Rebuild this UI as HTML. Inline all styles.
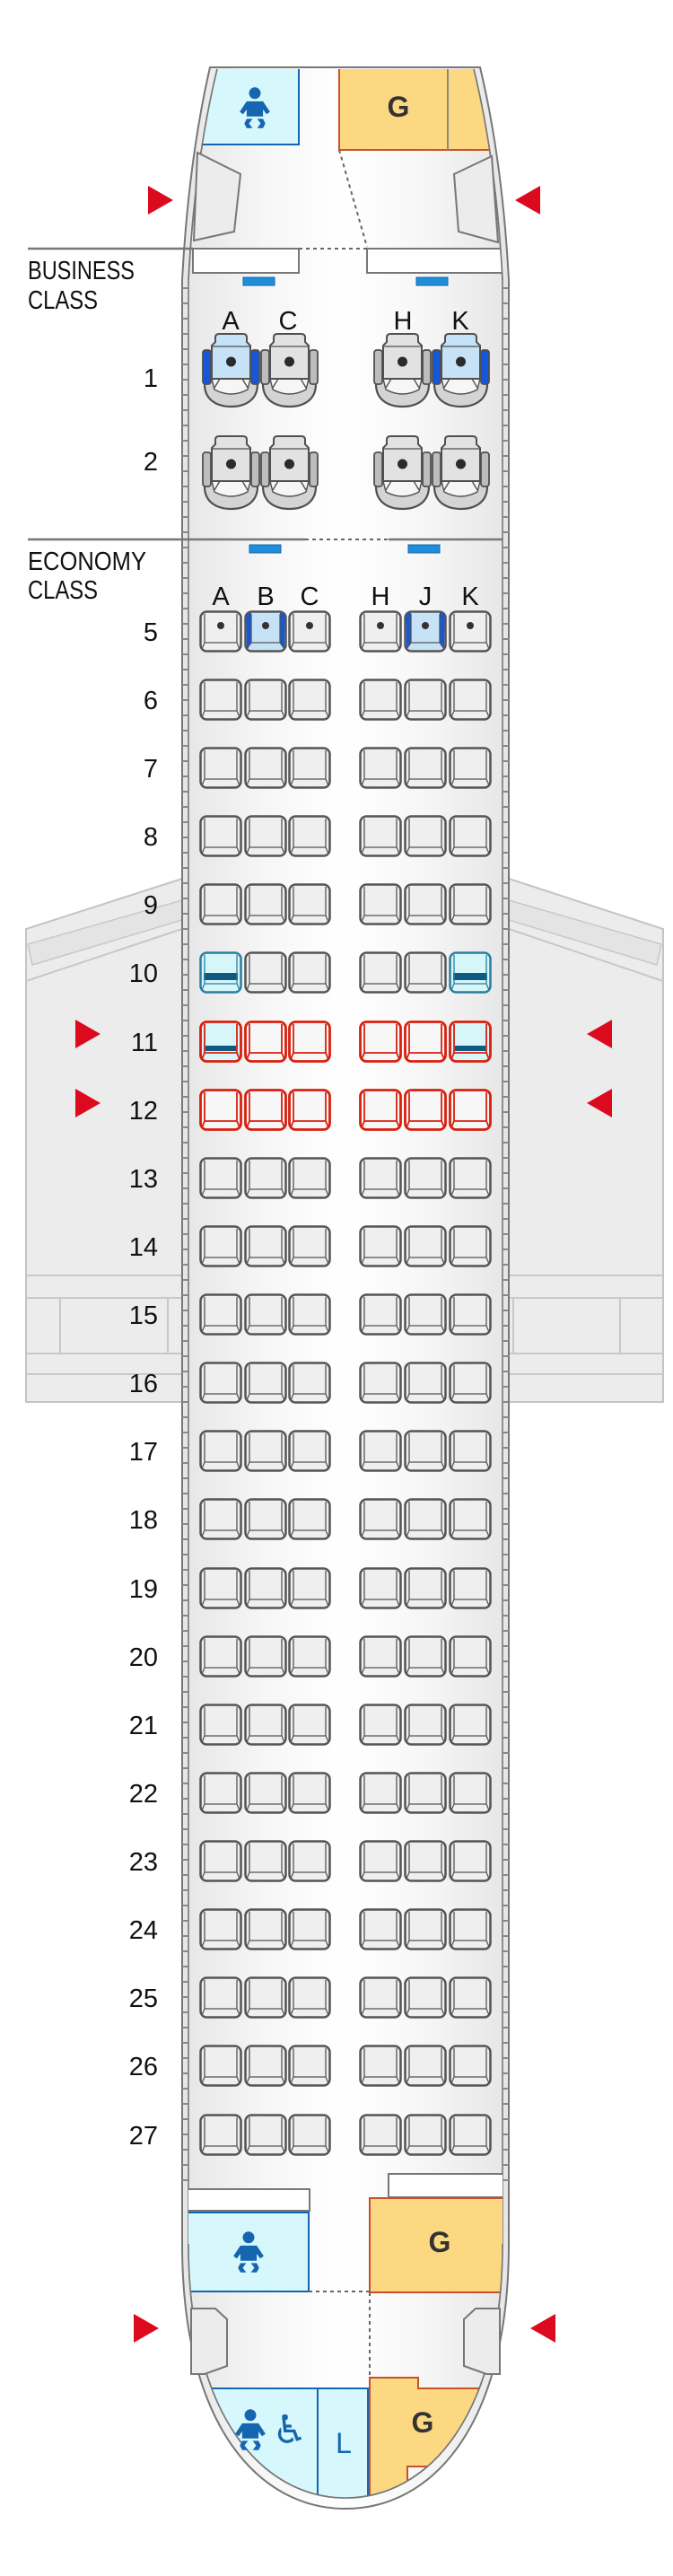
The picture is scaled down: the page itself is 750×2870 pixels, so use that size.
<!DOCTYPE html>
<html><head><meta charset="utf-8"><style>
html,body{margin:0;padding:0;background:#fff;}
svg{display:block;}
text{font-family:"Liberation Sans",sans-serif;}
</style></head><body>
<svg width="750" height="2870" viewBox="0 0 750 2870" xmlns="http://www.w3.org/2000/svg">
<defs>
<linearGradient id="fg" x1="0" x2="1" y1="0" y2="0">
<stop offset="0" stop-color="#e6e6e6"/><stop offset="0.25" stop-color="#f6f6f6"/><stop offset="0.5" stop-color="#ffffff"/><stop offset="0.75" stop-color="#f6f6f6"/><stop offset="1" stop-color="#e6e6e6"/>
</linearGradient>
<clipPath id="inner"><path d="M242,77 L528,77 Q553,180 560,312 L560,2500 C560,2690 478,2783 385,2783 C292,2783 210,2690 210,2500 L210,312 Q217,180 242,77 Z"/></clipPath>
<g id="s"><rect x="1.5" y="1.5" width="45" height="44" rx="7" fill="#efefef" stroke="#555" stroke-width="2.5"/><path d="M6,4 V36 H42 V4 M6,36 L3,43 M42,36 L45,43" fill="none" stroke="#555" stroke-width="1.3"/></g>
<g id="sd"><use href="#s"/><circle cx="24" cy="17" r="4" fill="#333"/></g>
<g id="sb"><rect x="1.5" y="1.5" width="45" height="44" rx="7" fill="#c6e2f7" stroke="#555" stroke-width="2.5"/><path d="M2.5,8 Q2.5,2.5 8,2.5 V36 L3,43 Z M45.5,8 Q45.5,2.5 40,2.5 V36 L45,43 Z" fill="#1656d8"/><path d="M8,4 V36 H40 V4 M8,36 L3,43 M40,36 L45,43" fill="none" stroke="#555" stroke-width="1.3"/><circle cx="24" cy="17" r="4" fill="#333"/></g>
<g id="sr"><rect x="1.5" y="1.5" width="45" height="44" rx="7" fill="#f7f7f7" stroke="#d8200f" stroke-width="2.8"/><path d="M6,4 V36 H42 V4 M6,36 L3,43 M42,36 L45,43" fill="none" stroke="#d8200f" stroke-width="1.8"/></g>
<g id="sx"><rect x="1.5" y="1.5" width="45" height="44" rx="7" fill="#d6f6fa" stroke="#2a7ea0" stroke-width="2.5"/><rect x="5" y="24" width="38" height="8" fill="#0e5a80"/><path d="M6,4 V36 H42 V4 M6,36 L3,43 M42,36 L45,43" fill="none" stroke="#2a7ea0" stroke-width="1.3"/></g>
<g id="srx"><rect x="1.5" y="1.5" width="45" height="44" rx="7" fill="#d6f6fa" stroke="#d8200f" stroke-width="2.8"/><rect x="7" y="28" width="34" height="6" fill="#0e5a80"/><path d="M6,4 V36 H42 V4 M6,36 L3,43 M42,36 L45,43" fill="none" stroke="#d8200f" stroke-width="1.8"/></g>
<g id="row"><use href="#s" x="222"/><use href="#s" x="272"/><use href="#s" x="321"/><use href="#s" x="400"/><use href="#s" x="450"/><use href="#s" x="500"/></g>
<g id="bz">
<path d="M3,28 V56 C3,73 16,81 32.5,81 C49,81 62,73 62,56 V28 Z" fill="#d4d4d4" stroke="#505050" stroke-width="2.2"/>
<path d="M11,50 L54,50 L51,62 Q32.5,72 14,62 Z" fill="#f6f6f6" stroke="#505050" stroke-width="1.4"/>
<path d="M20,50 L14,60 M45,50 L51,60" stroke="#505050" stroke-width="1.4"/>
<rect x="1" y="18" width="9" height="38" rx="3" fill="#bdbdbd" stroke="#505050" stroke-width="1.8"/>
<rect x="55" y="18" width="9" height="38" rx="3" fill="#bdbdbd" stroke="#505050" stroke-width="1.8"/>
<path d="M15,4 Q15,0 19,0 H46 Q50,0 50,4 V9 L54,13 V50 H11 V13 L15,9 Z" fill="#e2e2e2" stroke="#505050" stroke-width="2"/>
<path d="M11,14 H54" stroke="#505050" stroke-width="1.2"/>
<circle cx="32.5" cy="31" r="5.5" fill="#2b2b2b"/>
</g>
<g id="bb">
<path d="M3,28 V56 C3,73 16,81 32.5,81 C49,81 62,73 62,56 V28 Z" fill="#d4d4d4" stroke="#505050" stroke-width="2.2"/>
<path d="M11,50 L54,50 L51,62 Q32.5,72 14,62 Z" fill="#f6f6f6" stroke="#505050" stroke-width="1.4"/>
<path d="M20,50 L14,60 M45,50 L51,60" stroke="#505050" stroke-width="1.4"/>
<rect x="1" y="18" width="9" height="38" rx="3" fill="#1656d8" stroke="#505050" stroke-width="1.8"/>
<rect x="55" y="18" width="9" height="38" rx="3" fill="#1656d8" stroke="#505050" stroke-width="1.8"/>
<path d="M15,4 Q15,0 19,0 H46 Q50,0 50,4 V9 L54,13 V50 H11 V13 L15,9 Z" fill="#c6e2f7" stroke="#505050" stroke-width="2"/>
<path d="M11,14 H54" stroke="#505050" stroke-width="1.2"/>
<circle cx="32.5" cy="31" r="5.5" fill="#2b2b2b"/>
</g>
<g id="baby" fill="#1565b0" transform="scale(1.3)">
<circle cx="0" cy="-14" r="5"/>
<path d="M-7,-7 H7 L13,2 L10,4 L7,0 V6 H-7 V0 L-10,4 L-13,2 Z"/>
<path d="M-7,8 L-2,8 L-5,12 L-2,16 L-7,16 L-9,12 Z M7,8 L2,8 L5,12 L2,16 L7,16 L9,12 Z"/>
</g>
<polygon id="ar" points="0,-16 28,0 0,16" fill="#dc0a1e"/>
<polygon id="al" points="28,-16 0,0 28,16" fill="#dc0a1e"/>
</defs>

<g fill="#ececec" stroke="#c4c4c4" stroke-width="2">
<polygon points="203,979 29,1035 29,1562 203,1562"/>
<polygon points="567,979 739,1035 739,1562 567,1562"/>
</g>
<g fill="#e4e4e4" stroke="#c8c8c8" stroke-width="1.5">
<polygon points="203,1003 31,1052 36,1075 203,1025"/>
<polygon points="567,1003 737,1052 732,1075 567,1025"/>
</g>
<g stroke="#c8c8c8" stroke-width="2" fill="none">
<path d="M29,1093 L203,1035 M567,1035 L739,1093"/>
<path d="M29,1421 H203 M29,1446 H203 M29,1508 H203 M29,1531 H203 M67,1446 V1508 M187,1446 V1508"/>
<path d="M567,1421 H739 M567,1446 H739 M567,1508 H739 M567,1531 H739 M691,1446 V1508 M572,1446 V1508"/>
</g>

<path d="M234,75 L535,75 Q560,180 567,312 L567,2500 C567,2705 480,2795 385,2795 C290,2795 203,2705 203,2500 L203,312 Q210,180 234,75 Z" fill="url(#fg)" stroke="#777" stroke-width="2"/>
<path d="M242,77 Q217,180 210,312 L210,2500 C210,2690 292,2783 385,2783 C478,2783 560,2690 560,2500 L560,312 Q553,180 528,77" fill="none" stroke="#777" stroke-width="1.6"/>
<g stroke="#888" fill="none">
<line x1="206.5" y1="320" x2="206.5" y2="2440" stroke-width="7" stroke-dasharray="2 15"/>
<line x1="563.5" y1="320" x2="563.5" y2="2440" stroke-width="7" stroke-dasharray="2 15"/>
</g>

<g clip-path="url(#inner)">
<rect x="200" y="75" width="133" height="86" fill="#d6f8fc" stroke="#1565b0" stroke-width="2"/>
<rect x="378" y="75" width="200" height="92" fill="#fdd882" stroke="#c8502a" stroke-width="2"/>
<line x1="499" y1="75" x2="499" y2="167" stroke="#888" stroke-width="2"/>
<rect x="215" y="277" width="118" height="27" fill="#fff" stroke="#777" stroke-width="2"/>
<rect x="409" y="277" width="160" height="27" fill="#fff" stroke="#777" stroke-width="2"/>
<rect x="190" y="2439" width="155" height="24" fill="#fff" stroke="#777" stroke-width="2"/>
<rect x="433" y="2422" width="140" height="26" fill="#fff" stroke="#777" stroke-width="2"/>
<rect x="200" y="2465" width="144" height="88" fill="#d6f8fc" stroke="#1565b0" stroke-width="2"/>
<rect x="412" y="2449" width="160" height="105" fill="#fdd882" stroke="#c8502a" stroke-width="2"/>
<path d="M200,2661 H354 V2800 H200 Z" fill="#d6f8fc" stroke="#1565b0" stroke-width="2"/>
<path d="M354,2661 H410 V2800 H354 Z" fill="#d6f8fc" stroke="#1565b0" stroke-width="2"/>
<path d="M412,2649 H466 V2661 H536 L495,2748 H454 V2777 L412,2784 Z" fill="#fdd882" stroke="#c8502a" stroke-width="2"/>
</g>
<path d="M242,77 Q217,180 210,312 M210,2500 C210,2690 292,2783 385,2783 C478,2783 560,2690 560,2500 M560,312 Q553,180 528,77" fill="none" stroke="#777" stroke-width="1.6"/>
<polygon points="220,170 268,194 261,258 216,268" fill="#ececec" stroke="#777" stroke-width="2"/>
<polygon points="548,174 506,194 511,258 555,270" fill="#ececec" stroke="#777" stroke-width="2"/>
<polygon points="213,2572 240,2572 253,2584 253,2636 228,2645 213,2645" fill="#ececec" stroke="#777" stroke-width="2"/>
<polygon points="557,2572 530,2572 517,2584 517,2636 542,2645 557,2645" fill="#ececec" stroke="#777" stroke-width="2"/>
<g stroke="#666" stroke-width="2" stroke-dasharray="4 4" fill="none">
<line x1="378" y1="167" x2="409" y2="275"/>
<line x1="333" y1="277" x2="409" y2="277"/>
<line x1="340" y1="601" x2="433" y2="601"/>
<line x1="344" y1="2553" x2="412" y2="2553"/>
<line x1="412" y1="2554" x2="412" y2="2648"/>
</g>
<g stroke="#777" stroke-width="2.5">
<line x1="31" y1="277" x2="215" y2="277"/>
<line x1="31" y1="601" x2="340" y2="601"/>
<line x1="433" y1="601" x2="560" y2="601"/>
</g>
<g fill="#1e8fd6" stroke="#1565b0" stroke-width="1">
<rect x="271" y="309" width="35" height="9"/><rect x="464" y="309" width="35" height="9"/>
<rect x="278" y="607" width="35" height="9"/><rect x="455" y="607" width="35" height="9"/>
</g>
<use href="#baby" x="284" y="122"/>
<use href="#baby" x="277" y="2511"/>
<use href="#baby" x="279" y="2709"/>
<text x="323" y="2722" font-size="44" fill="#1565b0" text-anchor="middle" style="font-family:'DejaVu Sans',sans-serif">♿</text>
<text x="383" y="2733" font-size="32" fill="#1565b0" text-anchor="middle">L</text>
<g font-size="32" fill="#333" text-anchor="middle" font-weight="bold">
<text x="444" y="130">G</text><text x="490" y="2509">G</text><text x="471" y="2710">G</text>
</g>
<use href="#ar" x="165" y="223"/><use href="#al" x="574" y="223"/>
<use href="#ar" x="149" y="2594"/><use href="#al" x="591" y="2594"/>
<use href="#ar" x="84" y="1152"/><use href="#al" x="654" y="1152"/>
<use href="#ar" x="84" y="1229"/><use href="#al" x="654" y="1229"/>

<g font-size="29" fill="#111">
<text x="31" y="311" textLength="119" lengthAdjust="spacingAndGlyphs">BUSINESS</text>
<text x="31" y="344" textLength="78" lengthAdjust="spacingAndGlyphs">CLASS</text>
<text x="31" y="635" textLength="132" lengthAdjust="spacingAndGlyphs">ECONOMY</text>
<text x="31" y="667" textLength="78" lengthAdjust="spacingAndGlyphs">CLASS</text>
</g>
<g font-size="29" fill="#111" text-anchor="middle">
<text x="257" y="367">A</text><text x="321" y="367">C</text><text x="449" y="367">H</text><text x="513" y="367">K</text>
<text x="246" y="674">A</text><text x="296" y="674">B</text><text x="345" y="674">C</text><text x="424" y="674">H</text><text x="474" y="674">J</text><text x="524" y="674">K</text>
</g>

<use href="#bb" x="225" y="372"/><use href="#bz" x="290" y="372"/><use href="#bz" x="416" y="372"/><use href="#bb" x="481" y="372"/>
<use href="#bz" x="225" y="486"/><use href="#bz" x="290" y="486"/><use href="#bz" x="416" y="486"/><use href="#bz" x="481" y="486"/>

<use href="#sd" x="222" y="680"/><use href="#sb" x="272" y="680"/><use href="#sd" x="321" y="680"/><use href="#sd" x="400" y="680"/><use href="#sb" x="450" y="680"/><use href="#sd" x="500" y="680"/>
<use href="#row" y="756"/>
<use href="#row" y="832"/>
<use href="#row" y="908"/>
<use href="#row" y="984"/>
<use href="#sx" x="222" y="1060"/><use href="#s" x="272" y="1060"/><use href="#s" x="321" y="1060"/><use href="#s" x="400" y="1060"/><use href="#s" x="450" y="1060"/><use href="#sx" x="500" y="1060"/>
<use href="#srx" x="222" y="1137"/><use href="#sr" x="272" y="1137"/><use href="#sr" x="321" y="1137"/><use href="#sr" x="400" y="1137"/><use href="#sr" x="450" y="1137"/><use href="#srx" x="500" y="1137"/>
<use href="#sr" x="222" y="1213"/><use href="#sr" x="272" y="1213"/><use href="#sr" x="321" y="1213"/><use href="#sr" x="400" y="1213"/><use href="#sr" x="450" y="1213"/><use href="#sr" x="500" y="1213"/>
<use href="#row" y="1289"/>
<use href="#row" y="1365"/>
<use href="#row" y="1441"/>
<use href="#row" y="1517"/>
<use href="#row" y="1593"/>
<use href="#row" y="1669"/>
<use href="#row" y="1746"/>
<use href="#row" y="1822"/>
<use href="#row" y="1898"/>
<use href="#row" y="1974"/>
<use href="#row" y="2050"/>
<use href="#row" y="2126"/>
<use href="#row" y="2202"/>
<use href="#row" y="2278"/>
<use href="#row" y="2355"/>

<g font-size="29" fill="#111" text-anchor="end">
<text x="176" y="431">1</text>
<text x="176" y="524">2</text>
<text x="176" y="714">5</text>
<text x="176" y="790">6</text>
<text x="176" y="866">7</text>
<text x="176" y="942">8</text>
<text x="176" y="1018">9</text>
<text x="176" y="1094">10</text>
<text x="176" y="1171">11</text>
<text x="176" y="1247">12</text>
<text x="176" y="1323">13</text>
<text x="176" y="1399">14</text>
<text x="176" y="1475">15</text>
<text x="176" y="1551">16</text>
<text x="176" y="1627">17</text>
<text x="176" y="1703">18</text>
<text x="176" y="1780">19</text>
<text x="176" y="1856">20</text>
<text x="176" y="1932">21</text>
<text x="176" y="2008">22</text>
<text x="176" y="2084">23</text>
<text x="176" y="2160">24</text>
<text x="176" y="2236">25</text>
<text x="176" y="2312">26</text>
<text x="176" y="2389">27</text>
</g>
</svg>
</body></html>
